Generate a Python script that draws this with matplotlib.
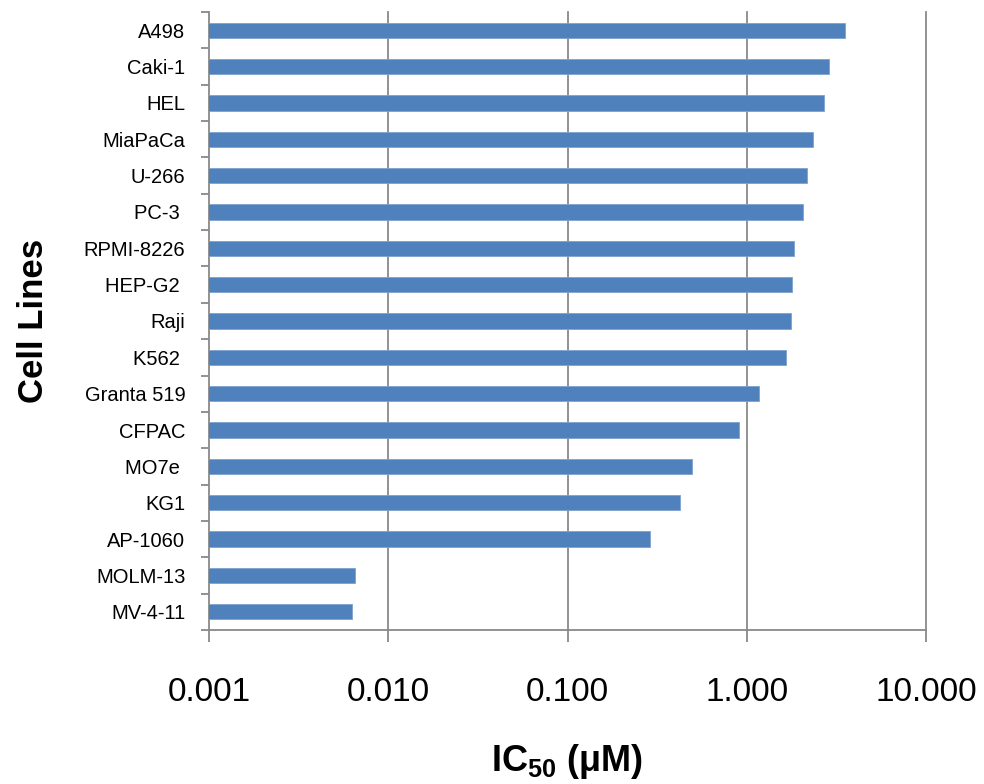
import numpy as np
import matplotlib
matplotlib.use("Agg")
import matplotlib.pyplot as plt
from matplotlib.ticker import FixedLocator, FixedFormatter, NullFormatter

plt.rcParams['font.family'] = ['Liberation Sans', 'DejaVu Sans']
plt.rcParams['mathtext.fontset'] = 'custom'
plt.rcParams['mathtext.rm'] = 'Liberation Sans'
plt.rcParams['mathtext.bf'] = 'Liberation Sans:bold'

# IC50 values (uM), listed top to bottom
cell_lines = ['A498', 'Caki-1', 'HEL', 'MiaPaCa', 'U-266', 'PC-3 ', 'RPMI-8226',
              'HEP-G2 ', 'Raji', 'K562 ', 'Granta 519', 'CFPAC', 'MO7e ', 'KG1',
              'AP-1060', 'MOLM-13', 'MV-4-11']
ic50 = [3.52, 2.87, 2.69, 2.33, 2.18, 2.05, 1.84,
        1.78, 1.77, 1.66, 1.17, 0.90, 0.495, 0.423,
        0.289, 0.00655, 0.00627]
x_ticks = [0.001, 0.01, 0.1, 1, 10]
x_tick_labels = ['0.001', '0.010', '0.100', '1.000', '10.000']

bar_color = '#4F81BD'
grid_color = '#898989'

fig = plt.figure(figsize=(9.84, 7.84), dpi=100, facecolor='white')
ax = fig.add_axes([209 / 984, 1 - 630 / 784, 717 / 984, 618 / 784])

y = np.arange(len(cell_lines))
ax.barh(y, ic50, height=0.42, left=0, color=bar_color,
        edgecolor='#7FA2CF', linewidth=0.6, zorder=3)

ax.set_xscale('log')
ax.set_xlim(x_ticks[0], x_ticks[-1])
ax.set_ylim(len(cell_lines) - 0.5, -0.5)

# vertical gridlines at each decade
for xv in x_ticks[1:]:
    ax.axvline(xv, color=grid_color, linewidth=1.3, zorder=1, clip_on=False)

ax.xaxis.set_major_locator(FixedLocator(x_ticks))
ax.xaxis.set_major_formatter(FixedFormatter(x_tick_labels))
ax.xaxis.set_minor_locator(FixedLocator([]))
ax.tick_params(axis='x', which='major', length=8.5, width=1.3, color=grid_color,
               labelsize=24, pad=25)

ax.yaxis.set_major_locator(FixedLocator(y))
ax.yaxis.set_major_formatter(FixedFormatter(cell_lines))
ax.yaxis.set_minor_locator(FixedLocator(np.arange(len(cell_lines) + 1) - 0.5))
ax.yaxis.set_minor_formatter(NullFormatter())
ax.tick_params(axis='y', which='major', length=0, labelsize=14.5, pad=17)
ax.tick_params(axis='y', which='minor', length=5.5, width=1.3, color=grid_color)

for side in ['top', 'right']:
    ax.spines[side].set_visible(False)
for side in ['left', 'bottom']:
    ax.spines[side].set_color(grid_color)
    ax.spines[side].set_linewidth(1.3)

ax.set_xlabel(r'IC$_{\mathbf{50}}$ (μM)', fontsize=26, fontweight='bold', va='center')
ax.xaxis.set_label_coords(0.5, -0.212)
ax.set_ylabel('Cell Lines', fontsize=25, fontweight='bold', va='center')
ax.yaxis.set_label_coords(-0.245, 0.5)

fig.savefig('out.png', dpi=100, facecolor='white')
